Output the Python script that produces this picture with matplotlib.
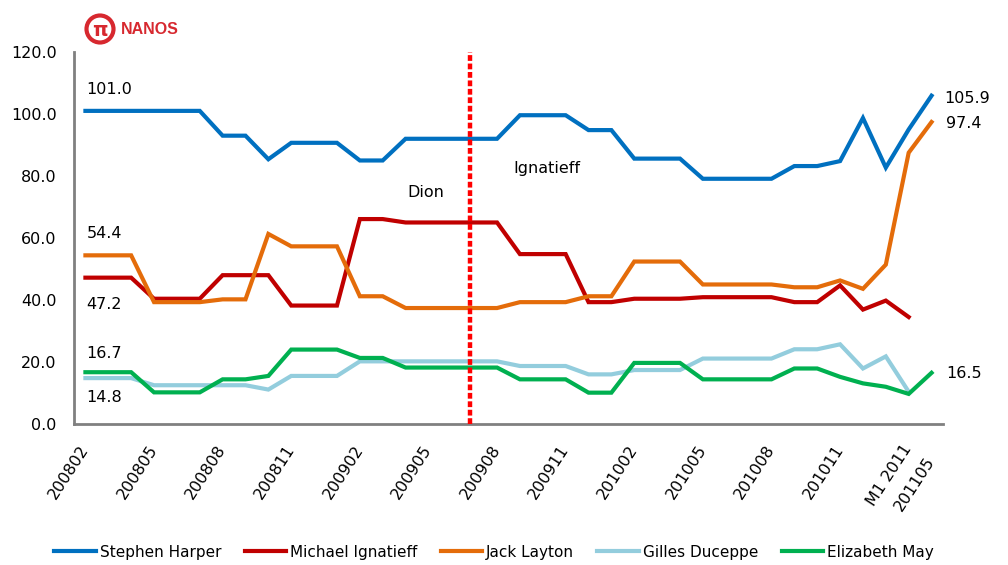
import numpy as np
import matplotlib.pyplot as plt
from matplotlib.patches import Circle

# 38 survey points, only every 3rd labelled (plus the last one)
periods = ['200802', '200803', '200804', '200805', '200806', '200807', '200808',
           '200809', '200810', '200811', '200812', '200901', '200902', '200903',
           '200904', '200905', '200906', '200907', '200908', '200909', '200910',
           '200911', '200912', '201001', '201002', '201003', '201004', '201005',
           '201006', '201007', '201008', '201009', '201010', '201011', '201012',
           '201101', 'M1 2011', '201105']

harper = [101.0, 101.0, 101.0, 101.0, 101.0, 101.0, 93.0, 93.0, 85.4, 90.7,
          90.7, 90.7, 85.0, 85.0, 92.0, 92.0, 92.0, 92.0, 92.0, 99.6,
          99.6, 99.6, 94.8, 94.8, 85.6, 85.6, 85.6, 79.1, 79.1, 79.1,
          79.1, 83.2, 83.2, 84.8, 98.7, 82.7, 95.0, 105.9]
ignatieff = [47.2, 47.2, 47.2, 40.4, 40.4, 40.4, 48.0, 48.0, 48.0, 38.2,
             38.2, 38.2, 66.1, 66.1, 65.0, 65.0, 65.0, 65.0, 65.0, 54.8,
             54.8, 54.8, 39.3, 39.3, 40.4, 40.4, 40.4, 40.9, 40.9, 40.9,
             40.9, 39.3, 39.3, 44.7, 36.9, 39.8, 34.5, np.nan]
layton = [54.4, 54.4, 54.4, 39.3, 39.3, 39.3, 40.2, 40.2, 61.3, 57.3,
          57.3, 57.3, 41.2, 41.2, 37.4, 37.4, 37.4, 37.4, 37.4, 39.3,
          39.3, 39.3, 41.2, 41.2, 52.4, 52.4, 52.4, 45.0, 45.0, 45.0,
          45.0, 44.1, 44.1, 46.3, 43.6, 51.4, 87.5, 97.4]
duceppe = [14.8, 14.8, 14.8, 12.5, 12.5, 12.5, 12.5, 12.5, 11.1, 15.5,
           15.5, 15.5, 20.2, 20.2, 20.2, 20.2, 20.2, 20.2, 20.2, 18.7,
           18.7, 18.7, 16.0, 16.0, 17.4, 17.4, 17.4, 21.1, 21.1, 21.1,
           21.1, 24.1, 24.1, 25.7, 17.9, 21.8, 10.4, np.nan]
may = [16.7, 16.7, 16.7, 10.2, 10.2, 10.2, 14.4, 14.4, 15.5, 24.0,
       24.0, 24.0, 21.3, 21.3, 18.2, 18.2, 18.2, 18.2, 18.2, 14.4,
       14.4, 14.4, 10.1, 10.1, 19.7, 19.7, 19.7, 14.4, 14.4, 14.4,
       14.4, 17.9, 17.9, 15.2, 13.1, 12.0, 9.7, 16.5]

leaders = ['Stephen Harper', 'Michael Ignatieff', 'Jack Layton', 'Gilles Duceppe', 'Elizabeth May']
colors = ['#0070C0', '#C00000', '#E46C0A', '#93CDDD', '#00B050']

fs = 11.5
fig = plt.figure(figsize=(10.08, 5.65), dpi=100)
ax = fig.add_axes([0.0734, 0.2496, 0.8621, 0.6584])

x = np.arange(len(periods))
for name, vals, c in zip(leaders, [harper, ignatieff, layton, duceppe, may], colors):
    ax.plot(x, vals, color=c, lw=3, label=name, solid_joinstyle='miter')

# leadership change marker
ax.axvline(16.8, color='#FF0000', lw=3.2, linestyle=(0, (1.3, 0.6)), zorder=5)
ax.text(14.9, 74.8, 'Dion', fontsize=fs, ha='center', va='center')
ax.text(20.2, 82.5, 'Ignatieff', fontsize=fs, ha='center', va='center')

# value labels at both ends
ax.text(0.05, 107.8, '101.0', fontsize=fs, va='center')
ax.text(0.05, 61.6, '54.4', fontsize=fs, va='center')
ax.text(0.05, 38.6, '47.2', fontsize=fs, va='center')
ax.text(0.05, 22.8, '16.7', fontsize=fs, va='center')
ax.text(0.05, 8.6, '14.8', fontsize=fs, va='center')
ax.text(37.55, 105.0, '105.9', fontsize=fs, va='center', clip_on=False)
ax.text(37.65, 96.8, '97.4', fontsize=fs, va='center', clip_on=False)
ax.text(37.65, 16.4, '16.5', fontsize=fs, va='center', clip_on=False)

ax.set_xlim(-0.5, 37.5)
ax.set_ylim(0, 120)
ax.set_yticks(np.arange(0, 121, 20))
ax.set_yticklabels(['%.1f' % v for v in np.arange(0, 121, 20)], fontsize=fs)

tick_idx = list(range(0, 34, 3)) + [36, 37]
ax.set_xticks(tick_idx)
ax.set_xticklabels([periods[i] for i in tick_idx], fontsize=fs, rotation=57,
                   ha='right', va='center', rotation_mode='anchor')
ax.tick_params(axis='both', length=0)
ax.tick_params(axis='x', pad=16)
ax.tick_params(axis='y', pad=12.5)
ax.xaxis.get_major_ticks()[-1].set_pad(25)

for s in ['top', 'right']:
    ax.spines[s].set_visible(False)
for s in ['left', 'bottom']:
    ax.spines[s].set_color('#808080')
    ax.spines[s].set_linewidth(2)

ax.legend(loc='center', bbox_to_anchor=(0.49, 0.0225), bbox_transform=fig.transFigure,
          ncol=5, frameon=False, fontsize=11, handlelength=2.7, handletextpad=0.25,
          columnspacing=1.55)

# NANOS logo
fig.patches.append(Circle((1.0, 5.36), 0.135, transform=fig.dpi_scale_trans,
                          fill=False, ec='#D7282F', lw=3))
fig.text(100 / 1008, 1 - 30 / 565, 'π', color='#D7282F', fontsize=14, fontweight='bold',
         ha='center', va='center')
fig.text(121 / 1008, 1 - 29 / 565, 'NANOS', color='#D7282F', fontsize=11.5, fontweight='bold',
         ha='left', va='center', family=['Liberation Sans', 'DejaVu Sans'])

fig.savefig('out.png', dpi=100)
